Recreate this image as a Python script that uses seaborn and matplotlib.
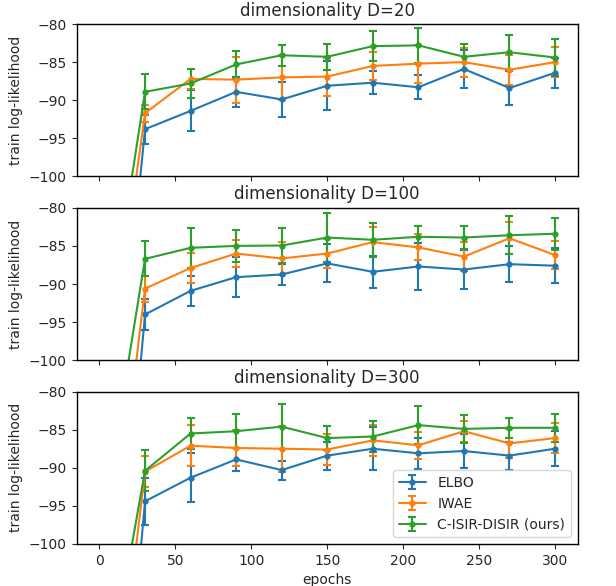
import numpy as np
import matplotlib
matplotlib.use("Agg")
import matplotlib.pyplot as plt
import seaborn as sns

epochs = [0, 30, 60, 90, 120, 150, 180, 210, 240, 270, 300]
dims = [20, 100, 300]
methods = ["ELBO", "IWAE", "C-ISIR-DISIR (ours)"]

# D=20
elbo_20 = [-154, -93.8, -91.4, -88.9, -89.9, -88.1, -87.7, -88.3, -85.9, -88.4, -86.4]
elbo_20_err = [2, 1.9, 2.7, 2.0, 2.3, 3.2, 1.5, 1.55, 2.5, 2.2, 2.0]
iwae_20 = [-135, -91.7, -87.2, -87.3, -87.0, -86.9, -85.5, -85.2, -85.0, -86.0, -85.0]
iwae_20_err = [2, 1.1, 1.3, 3.0, 3.0, 2.5, 1.8, 2.5, 1.9, 2.0, 2.0]
ours_20 = [-127.6, -88.9, -87.8, -85.3, -84.1, -84.3, -82.9, -82.8, -84.3, -83.7, -84.4]
ours_20_err = [2, 2.3, 1.9, 1.8, 1.4, 1.7, 2.0, 2.3, 1.7, 2.3, 2.4]

# D=100
elbo_100 = [-160, -94.0, -90.9, -89.1, -88.75, -87.3, -88.4, -87.7, -88.1, -87.4, -87.6]
elbo_100_err = [2, 2.0, 2.0, 2.6, 1.4, 2.5, 2.1, 3.1, 2.5, 2.4, 2.3]
iwae_100 = [-140, -90.6, -87.9, -86.0, -86.65, -86.0, -84.5, -85.2, -86.4, -84.0, -86.2]
iwae_100_err = [2, 1.7, 2.0, 1.8, 2.2, 1.9, 2.0, 1.7, 1.9, 2.1, 1.8]
ours_100 = [-123.7, -86.7, -85.25, -85.0, -84.95, -83.9, -84.2, -83.8, -83.9, -83.6, -83.4]
ours_100_err = [2, 2.3, 2.6, 2.1, 2.25, 3.2, 2.2, 1.4, 1.5, 2.5, 2.1]

# D=300
elbo_300 = [-161, -94.4, -91.3, -88.9, -90.3, -88.4, -87.5, -88.1, -87.8, -88.4, -87.5]
elbo_300_err = [2, 3.1, 3.2, 1.5, 1.25, 1.85, 2.8, 2.0, 2.2, 1.85, 2.3]
iwae_300 = [-140.5, -90.5, -87.1, -87.4, -87.5, -87.6, -86.4, -87.05, -85.2, -86.8, -86.1]
iwae_300_err = [2, 2.0, 2.65, 2.4, 3.0, 2.0, 2.0, 1.75, 1.4, 1.95, 2.0]
ours_300 = [-124, -90.4, -85.5, -85.2, -84.6, -86.1, -85.9, -84.4, -84.9, -84.75, -84.75]
ours_300_err = [2, 2.7, 2.0, 2.2, 2.95, 1.6, 2.0, 2.45, 1.85, 1.3, 1.85]

series = {
    20: [(elbo_20, elbo_20_err), (iwae_20, iwae_20_err), (ours_20, ours_20_err)],
    100: [(elbo_100, elbo_100_err), (iwae_100, iwae_100_err), (ours_100, ours_100_err)],
    300: [(elbo_300, elbo_300_err), (iwae_300, iwae_300_err), (ours_300, ours_300_err)],
}

sns.set_style("ticks")
plt.rcParams["font.family"] = ["DejaVu Sans"]
colors = sns.color_palette("tab10", 3)

fig, axes = plt.subplots(3, 1, figsize=(6.16, 5.86), dpi=100, sharex=True)
fig.subplots_adjust(left=0.1245, right=0.938, top=0.959, bottom=0.0717, hspace=0.206)

for ax, d in zip(axes, dims):
    for (vals, errs), name, c in zip(series[d], methods, colors):
        ax.errorbar(epochs, vals, yerr=errs, fmt="-o", color=c, ms=3.5, lw=1.5,
                    capsize=3, elinewidth=1.5, capthick=1.5, label=name)
    ax.set_ylim(-100, -80)
    ax.set_yticks([-100, -95, -90, -85, -80])
    ax.set_xlim(-15, 315)
    ax.set_ylabel("train log-likelihood", fontsize=10)
    ax.set_title(f"dimensionality D={d}", fontsize=12)
    ax.tick_params(labelsize=10, direction="out", length=3.5)
    for s in ax.spines.values():
        s.set_linewidth(1.0)
        s.set_color("black")

axes[-1].set_xticks([0, 50, 100, 150, 200, 250, 300])
axes[-1].set_xlabel("epochs", fontsize=10)
axes[-1].legend(loc="lower right", fontsize=10)

fig.savefig("out.png", dpi=100)
